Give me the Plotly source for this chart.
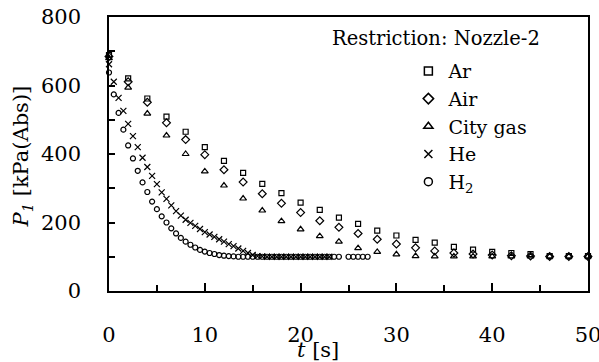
import plotly.graph_objects as go

# time axis for Ar, Air, City gas (every 2 s)
t_slow = [0, 2, 4, 6, 8, 10, 12, 14, 16, 18, 20, 22, 24, 26, 28, 30,
          32, 34, 36, 38, 40, 42, 44, 46, 48, 50]
p_ar = [689, 621, 562, 509, 465, 420, 380, 345, 313, 286, 258, 237, 214, 196, 176, 162,
        149, 141, 129, 121, 114, 111, 108, 102, 102, 102]
p_air = [685, 611, 551, 491, 442, 398, 354, 318, 284, 256, 229, 205, 186, 168, 151, 137,
         126, 117, 111, 108, 105, 103, 102, 101, 101, 101]
p_city = [680, 594, 518, 454, 400, 349, 308, 270, 235, 204, 180, 160, 144, 125, 114, 107,
          102, 101, 101, 101, 101, 101, 101, 101, 101, 101]

t_he = [0, 0.5, 1, 1.5, 2, 2.5, 3, 3.5, 4, 4.5, 5, 5.5, 6, 6.5, 7, 7.5, 8, 8.5, 9, 9.5,
        10, 10.5, 11, 11.5, 12, 12.5, 13, 13.5, 14, 14.5, 15, 15.5, 16, 16.5, 17, 17.5,
        18, 18.5, 19, 19.5, 20, 20.5, 21, 21.5, 22, 22.5, 23]
p_he = [662, 611, 564, 526, 488, 452, 420, 389, 362, 336, 312, 288, 269, 250, 233, 220,
        208, 199, 190, 181, 172, 165, 158, 151, 144, 137, 131, 124, 117, 111, 105, 102,
        101, 100, 100, 100, 100, 100, 100, 100, 100, 100, 100, 100, 100, 100, 100]

t_h2 = [0, 0.5, 1, 1.5, 2, 2.5, 3, 3.5, 4, 4.5, 5, 5.5, 6, 6.5, 7, 7.5, 8, 8.5, 9, 9.5,
        10, 10.5, 11, 11.5, 12, 12.5, 13, 13.5, 14, 14.5, 15, 15.5, 16, 16.5, 17, 17.5,
        18, 18.5, 19, 19.5, 20, 20.5, 21, 21.5, 22, 22.5, 23, 23.5, 24, 25, 25.5, 26,
        26.5, 27]
p_h2 = [638, 574, 520, 471, 425, 387, 351, 317, 289, 261, 239, 218, 200, 183, 168, 155,
        144, 135, 127, 120, 115, 111, 108, 105, 103, 102, 101, 100, 100, 100, 100, 100,
        100, 100, 100, 100, 100, 100, 100, 100, 100, 100, 100, 100, 100, 100, 100, 100,
        100, 100, 100, 100, 100, 100]

names = ["Ar", "Air", "City gas", "He", "H<sub>2</sub>"]
symbols = ["square-open", "diamond-open", "triangle-up-open", "x-thin-open", "circle-open"]
sizes = [5, 6, 6, 6, 5]
series = [(t_slow, p_ar), (t_slow, p_air), (t_slow, p_city), (t_he, p_he), (t_h2, p_h2)]

FONT = "DejaVu Serif"
fig = go.Figure()
for (tx, py), sym, sz in zip(series, symbols, sizes):
    fig.add_trace(go.Scatter(x=tx, y=py, mode="markers", showlegend=False, cliponaxis=False,
                             marker=dict(symbol=sym, size=sz, color="black",
                                         line=dict(color="black", width=1.2))))
for name, sym in zip(names, symbols):
    fig.add_trace(go.Scatter(x=[None], y=[None], mode="markers", name=name,
                             marker=dict(symbol=sym, size=8, color="black",
                                         line=dict(color="black", width=1.5))))

fig.update_layout(
    width=599, height=362,
    margin=dict(l=109, r=11, t=17, b=71, autoexpand=False),
    paper_bgcolor="white", plot_bgcolor="white",
    font=dict(family=FONT, color="black"),
    legend=dict(x=0.625, y=0.872, xanchor="left", yanchor="top",
                bgcolor="rgba(0,0,0,0)", font=dict(family=FONT, size=19, color="black"),
                itemwidth=30),
    annotations=[
        dict(text="<i>P</i><sub><i>1</i></sub> [kPa(Abs)]", xref="paper", yref="paper",
             x=-0.181, y=0.492, xanchor="center", yanchor="middle", textangle=-90,
             showarrow=False, font=dict(family=FONT, size=21, color="black")),
        dict(text="<i>t</i> [s]", xref="paper", yref="paper", x=0.437, y=-0.217,
             xanchor="center", yanchor="middle",
             showarrow=False, font=dict(family=FONT, size=21, color="black")),
        dict(text="Restriction: Nozzle-2", xref="paper", yref="paper", x=0.683, y=0.923,
             xanchor="center", yanchor="middle",
             showarrow=False, font=dict(family=FONT, size=19.5, color="black")),
    ],
)
fig.update_xaxes(range=[0, 50], dtick=10, ticks="inside", ticklen=8, tickwidth=1.5,
                 tickcolor="black", showline=True, linecolor="black", linewidth=1.5,
                 mirror=True, showgrid=False, zeroline=False, ticklabeloverflow="allow",
                 automargin=False,
                 tickfont=dict(family=FONT, size=21, color="black"), ticklabelstandoff=24,
                 minor=dict(dtick=5, ticks="inside", ticklen=6, tickwidth=1.5,
                            tickcolor="black", showgrid=False))
fig.update_yaxes(range=[0, 800], tickvals=[0, 200, 400, 600, 800], ticks="inside",
                 ticklen=6, tickwidth=1.5, tickcolor="black", showline=True,
                 linecolor="black", linewidth=1.5, mirror=True, showgrid=False,
                 zeroline=False, tickfont=dict(family=FONT, size=21, color="black"),
                 ticklabelstandoff=22, ticklabeloverflow="allow", automargin=False,
                 minor=dict(dtick=100, ticks="inside", ticklen=6, tickwidth=1.5,
                            tickcolor="black", showgrid=False))

fig.write_html("out.html")
